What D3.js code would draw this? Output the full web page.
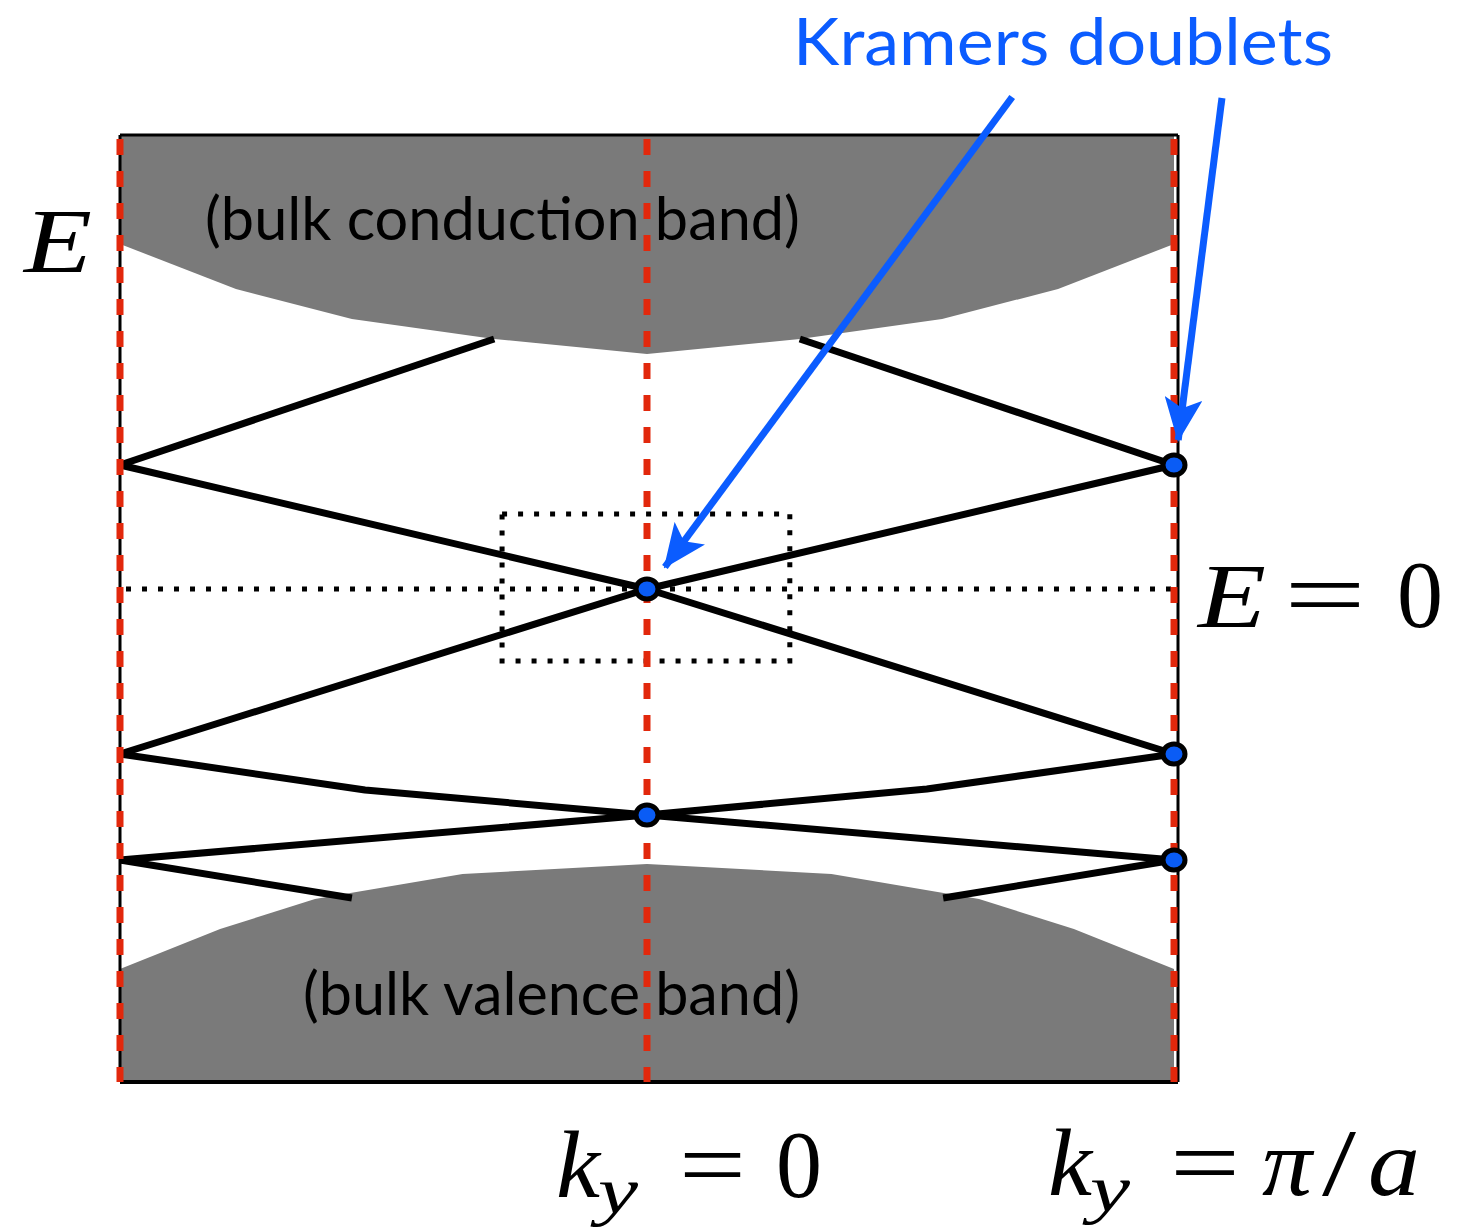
<!DOCTYPE html>
<meta charset="utf-8">
<script src="https://d3js.org/d3.v7.min.js"></script>
<style>
  body { margin: 0; background: #fff; }
  .gill { font-family: Lato, "Noto Sans", sans-serif; }
  .math { font-family: "Liberation Serif", "DejaVu Serif", serif; }
</style>
<body>
<div id="chart"></div>

<script>
// k_y in units of pi/a, E in arbitrary units (E = 0 at the crossing)
var frameE = [-0.986, 0.908];
var cutsK = [-1, 0, 1];

// bulk bands
var condK = [-1, -0.78, -0.56, -0.29, 0, 0.29, 0.56, 0.78, 1];
var condE = [0.69, 0.60, 0.54, 0.50, 0.47, 0.50, 0.54, 0.60, 0.69];
var valK  = [-1, -0.81, -0.63, -0.35, 0, 0.35, 0.63, 0.81, 1];
var valE  = [-0.76, -0.68, -0.62, -0.57, -0.55, -0.57, -0.62, -0.68, -0.76];

// edge state branches
var edgeStates = [
  { k: [-0.29, -1],          E: [0.50, 0.248] },
  { k: [-1, 0, 1],           E: [0.248, 0, -0.33] },
  { k: [-1, 0, 1],           E: [-0.33, 0, 0.248] },
  { k: [0.29, 1],            E: [0.50, 0.248] },
  { k: [-1, -0.535, 0, 1],   E: [-0.33, -0.402, -0.452, -0.542] },
  { k: [-1, 0, 0.531, 1],    E: [-0.542, -0.452, -0.40, -0.33] },
  { k: [-1, -0.56],          E: [-0.542, -0.618] },
  { k: [1, 0.562],           E: [-0.542, -0.618] }
];

// Kramers degenerate points
var kramersK = [0, 0, 1, 1, 1];
var kramersE = [0, -0.452, 0.248, -0.33, -0.542];

// zoom box around the Dirac point
var boxK = [-0.275, 0.271];
var boxE = [-0.144, 0.15];

// annotation arrows (tail -> head)
var arrowK = [[0.693, 0.034], [1.091, 1.008]];
var arrowE = [[0.984, 0.044], [0.982, 0.298]];

var width = 1466, height = 1227;

var svg = d3.select("#chart")
  .append("svg")
    .attr("width", width)
    .attr("height", height);

var x = d3.scaleLinear().domain([-1, 1]).range([120, 1174]);
var y = d3.scaleLinear().domain([-1, 1]).range([1089, 89]);

var line = d3.line()
  .x(function(d) { return x(d[0]); })
  .y(function(d) { return y(d[1]); });

var zip = function(a, b) { return a.map(function(v, i) { return [v, b[i]]; }); };

// bulk conduction band
var cond = [[-1, frameE[1]]].concat(zip(condK, condE), [[1, frameE[1]]]);
svg.append("path")
  .attr("d", line(cond) + "Z")
  .attr("fill", "#7a7a7a");

// bulk valence band
var val = [[-1, frameE[0]]].concat(zip(valK, valE), [[1, frameE[0]]]);
svg.append("path")
  .attr("d", line(val) + "Z")
  .attr("fill", "#7a7a7a");

// band labels
svg.append("text")
  .attr("class", "gill")
  .attr("x", 205).attr("y", y(0.698))
  .attr("font-size", 60)
  .attr("textLength", 595).attr("lengthAdjust", "spacingAndGlyphs")
  .text("(bulk conduction band)");

svg.append("text")
  .attr("class", "gill")
  .attr("x", 303).attr("y", y(-0.852))
  .attr("font-size", 60)
  .attr("textLength", 497).attr("lengthAdjust", "spacingAndGlyphs")
  .text("(bulk valence band)");

// frame
svg.append("line")
  .attr("x1", x(-1)).attr("x2", x(1) + 4)
  .attr("y1", y(frameE[1])).attr("y2", y(frameE[1]))
  .attr("stroke", "#000").attr("stroke-width", 3);
svg.append("line")
  .attr("x1", x(-1)).attr("x2", x(1) + 4)
  .attr("y1", y(frameE[0])).attr("y2", y(frameE[0]))
  .attr("stroke", "#000").attr("stroke-width", 4);
svg.append("line")
  .attr("x1", x(-1)).attr("x2", x(-1))
  .attr("y1", y(frameE[1])).attr("y2", y(frameE[0]))
  .attr("stroke", "#000").attr("stroke-width", 3);
svg.append("line")
  .attr("x1", x(1) + 4).attr("x2", x(1) + 4)
  .attr("y1", y(frameE[1])).attr("y2", y(frameE[0]))
  .attr("stroke", "#000").attr("stroke-width", 3);

// E = 0 dotted line
svg.append("line")
  .attr("x1", x(-1) + 6).attr("x2", x(1))
  .attr("y1", y(0)).attr("y2", y(0))
  .attr("stroke", "#000").attr("stroke-width", 5)
  .attr("stroke-dasharray", "5,11");

// dotted zoom box
svg.append("rect")
  .attr("x", x(boxK[0])).attr("y", y(boxE[1]))
  .attr("width", x(boxK[1]) - x(boxK[0]))
  .attr("height", y(boxE[0]) - y(boxE[1]))
  .attr("fill", "none")
  .attr("stroke", "#000").attr("stroke-width", 5)
  .attr("stroke-dasharray", "5,11");

// edge states
svg.selectAll(".edge")
  .data(edgeStates)
  .enter().append("path")
    .attr("class", "edge")
    .attr("d", function(d) { return line(zip(d.k, d.E)); })
    .attr("fill", "none")
    .attr("stroke", "#000")
    .attr("stroke-width", 7)
    .attr("stroke-linejoin", "round");

// time reversal invariant momenta
svg.selectAll(".cut")
  .data(cutsK)
  .enter().append("line")
    .attr("class", "cut")
    .attr("x1", function(d) { return x(d); })
    .attr("x2", function(d) { return x(d); })
    .attr("y1", y(frameE[1]) + 4)
    .attr("y2", y(frameE[0]))
    .attr("stroke", "#e2280c")
    .attr("stroke-width", 7)
    .attr("stroke-dasharray", "16,16");

// Kramers doublets
svg.selectAll(".dot")
  .data(zip(kramersK, kramersE))
  .enter().append("ellipse")
    .attr("class", "dot")
    .attr("cx", function(d) { return x(d[0]); })
    .attr("cy", function(d) { return y(d[1]); })
    .attr("rx", 11).attr("ry", 10)
    .attr("fill", "#0a5cf5")
    .attr("stroke", "#000").attr("stroke-width", 5);

// arrows
svg.append("defs").append("marker")
  .attr("id", "head")
  .attr("markerUnits", "userSpaceOnUse")
  .attr("viewBox", "0 0 44 38")
  .attr("refX", 42).attr("refY", 19)
  .attr("markerWidth", 44).attr("markerHeight", 38)
  .attr("orient", "auto")
  .append("path")
    .attr("d", "M0,0 L44,19 L0,38 L10,19 Z")
    .attr("fill", "#0b5cff");

arrowK.forEach(function(k, i) {
  svg.append("line")
    .attr("x1", x(k[0])).attr("y1", y(arrowE[i][0]))
    .attr("x2", x(k[1])).attr("y2", y(arrowE[i][1]))
    .attr("stroke", "#0b5cff")
    .attr("stroke-width", 7)
    .attr("marker-end", "url(#head)");
});

svg.append("text")
  .attr("class", "gill")
  .attr("x", 793).attr("y", 65)
  .attr("font-size", 66)
  .attr("fill", "#0b5cff")
  .attr("textLength", 540).attr("lengthAdjust", "spacingAndGlyphs")
  .text("Kramers doublets");

// math labels: each glyph placed and stretched to the widths in the picture
function glyph(txt, x0, y0, w, size, italic) {
  svg.append("text")
    .attr("class", "math")
    .attr("x", x0).attr("y", y0)
    .attr("font-size", size)
    .attr("font-style", italic ? "italic" : "normal")
    .attr("textLength", w).attr("lengthAdjust", "spacingAndGlyphs")
    .text(txt);
}

glyph("E", 24, 272, 68, 92, true);

glyph("E", 1198, 627, 68, 92, true);
glyph("=", 1284, 627, 82, 96, false);
glyph("0", 1397, 627, 46, 96, false);

glyph("k", 556, 1197, 44, 96, true);
glyph("y", 598, 1213, 40, 66, true);
glyph("=", 679, 1197, 67, 96, false);
glyph("0", 776, 1197, 46, 96, false);

glyph("k", 1048, 1195, 44, 96, true);
glyph("y", 1090, 1211, 40, 66, true);
glyph("=", 1170, 1195, 70, 96, false);
glyph("π", 1262, 1195, 50, 96, true);
glyph("/", 1322, 1195, 34, 96, false);
glyph("a", 1368, 1195, 52, 96, true);
</script>
</body>
